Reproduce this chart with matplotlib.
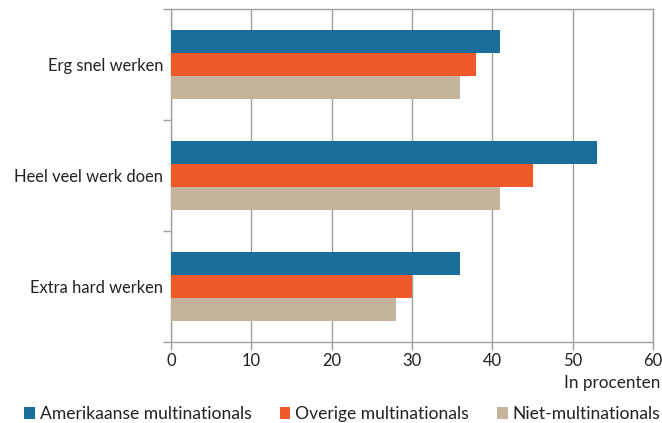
import matplotlib
matplotlib.use("Agg")
import matplotlib.pyplot as plt
import numpy as np
from matplotlib.patches import Patch

categories = ["Erg snel werken", "Heel veel werk doen", "Extra hard werken"]
series = ["Amerikaanse multinationals", "Overige multinationals", "Niet-multinationals"]
amerikaanse = [41, 53, 36]
overige = [38, 45, 30]
niet = [36, 41, 28]
xticks = [0, 10, 20, 30, 40, 50, 60]
colors = ["#1b6d9b", "#f05a2b", "#c5b49c"]

plt.rcParams['font.family'] = ['Lato', 'DejaVu Sans']
FS = 11.9
LFS = 12.6
txt = "#222222"
grid = "#a0a0a0"

fig = plt.figure(figsize=(6.62, 4.23), dpi=100)
ax = fig.add_axes([171/662, 81/423, (653-171)/662, (342-9)/423])

y = np.arange(len(categories))
h = 0.207
for i, (vals, c) in enumerate(zip([amerikaanse, overige, niet], colors)):
    ax.barh(y + (i - 1) * h, vals, height=h, color=c, zorder=3, label=series[i])

ax.set_ylim(2.5, -0.5)
ax.set_xlim(0, 60)
ax.set_xticks(xticks)
ax.set_xticklabels([str(t) for t in xticks], fontsize=FS, color=txt)
ax.set_yticks(y)
ax.set_yticklabels(categories, fontsize=FS, color=txt)
ax.set_yticks([-0.5, 0.5, 1.5, 2.5], minor=True)
ax.tick_params(axis='y', which='major', length=0, pad=5.5)
ax.tick_params(axis='y', which='minor', length=6, width=1, color=grid, direction='out')
ax.tick_params(axis='x', which='major', length=6, width=1, color=grid, direction='out', pad=2)
ax.grid(axis='x', color=grid, linewidth=1, zorder=0)
for s in ax.spines.values():
    s.set_color(grid)
    s.set_linewidth(1)

fig.text(660/662, 1 - 383/423, "In procenten", ha='right', va='center', fontsize=12.3, color=txt)

handles = [Patch(facecolor=c, edgecolor='none') for c in colors]
fig.legend(handles, series, loc='lower left', bbox_to_anchor=(17/662, -6/423), ncol=3,
           frameon=False, fontsize=LFS, handlelength=0.6, handleheight=0.7,
           handletextpad=0.3, columnspacing=1.6, labelcolor=txt, borderaxespad=0)

fig.savefig("out.png", dpi=100)
